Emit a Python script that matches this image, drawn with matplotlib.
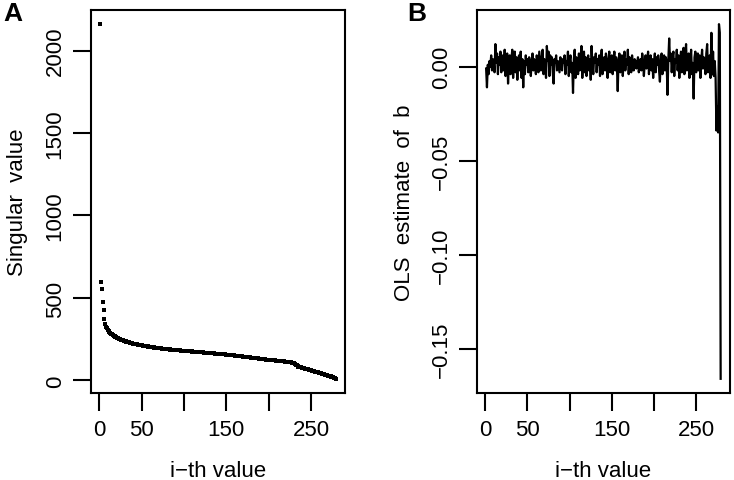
import numpy as np
import matplotlib
matplotlib.use("Agg")
from matplotlib import pyplot as plt

plt.rcParams['font.family'] = ['Liberation Sans', 'DejaVu Sans']

# panel A: singular values (in decreasing order)
singular = [
    2160, 597, 553, 478, 427, 373, 342, 326, 315, 306,
    299, 293, 288, 283, 279, 275, 271, 268, 265, 262,
    259, 256, 254, 251, 249, 247, 245, 243, 241, 239,
    237, 236, 234, 233, 231, 230, 228, 227, 226, 224,
    223, 222, 221, 220, 218, 217, 216, 215, 214, 213,
    212, 211, 210, 209, 208, 207, 206, 205, 204, 204,
    203, 202, 201, 200, 199, 199, 198, 197, 196, 196,
    195, 194, 194, 193, 192, 192, 191, 190, 190, 189,
    189, 188, 188, 187, 187, 186, 186, 185, 185, 184,
    184, 183, 183, 182, 182, 181, 181, 180, 180, 179,
    179, 179, 178, 178, 177, 177, 176, 176, 176, 175,
    175, 174, 174, 173, 173, 173, 172, 172, 171, 171,
    170, 170, 170, 169, 169, 168, 168, 167, 167, 167,
    166, 166, 165, 165, 164, 164, 163, 163, 162, 162,
    161, 161, 160, 160, 159, 159, 158, 158, 157, 157,
    156, 156, 155, 155, 154, 153, 153, 152, 152, 151,
    151, 150, 149, 149, 148, 148, 147, 146, 146, 145,
    144, 144, 143, 143, 142, 141, 141, 140, 139, 139,
    138, 137, 137, 136, 135, 135, 134, 133, 133, 132,
    131, 131, 130, 129, 129, 128, 127, 127, 126, 126,
    125, 124, 124, 123, 123, 122, 121, 121, 120, 120,
    119, 118, 118, 117, 117, 116, 115, 115, 114, 113,
    113, 112, 111, 111, 110, 109, 108, 107, 106, 104,
    100, 96, 91, 87, 84, 82, 80, 79, 77, 76,
    74, 73, 71, 70, 68, 67, 65, 64, 62, 61,
    59, 58, 56, 55, 53, 52, 50, 49, 47, 46,
    44, 43, 41, 39, 38, 36, 35, 33, 31, 30,
    28, 26, 24, 22, 20, 18, 16, 13, 10,
]

# panel B: OLS estimate of b
ols_b = [
    -0.001, -0.011, 0.001, -0.004, 0.003, 0.000, 0.006, -0.002, 0.004, 0.002,
    -0.003, 0.012, 0.002, 0.007, -0.004, 0.005, 0.001, 0.008, -0.003, 0.004,
    0.006, -0.002, 0.009, -0.005, 0.003, 0.007, -0.009, 0.002, 0.006, -0.004,
    0.004, 0.009, -0.006, 0.002, 0.008, -0.003, 0.005, -0.007, 0.003, 0.006,
    -0.002, 0.008, -0.006, 0.004, -0.011, 0.003, -0.004, 0.006, 0.001, 0.004,
    -0.003, 0.005, 0.002, -0.005, 0.003, 0.007, -0.002, 0.004, 0.001, -0.004,
    0.006, 0.002, -0.003, 0.008, 0.003, -0.002, 0.005, 0.009, -0.004, 0.004,
    0.002, -0.006, 0.011, 0.003, 0.008, -0.005, 0.006, 0.001, 0.005, -0.003,
    -0.009, 0.004, 0.002, 0.006, -0.002, 0.003, 0.000, -0.003, 0.005, 0.001,
    -0.002, 0.004, 0.002, 0.006, -0.004, 0.003, 0.001, 0.008, -0.005, 0.003,
    0.006, -0.003, 0.002, -0.014, 0.004, 0.009, -0.006, 0.005, 0.002, -0.004,
    0.007, -0.002, 0.004, 0.011, -0.006, 0.003, 0.008, -0.003, 0.005, -0.005,
    0.002, 0.006, -0.002, 0.004, -0.007, 0.011, 0.001, -0.004, 0.005, 0.002,
    0.007, -0.003, 0.004, 0.001, 0.006, -0.005, 0.003, 0.009, -0.004, 0.002,
    0.005, -0.002, 0.007, 0.001, -0.006, 0.004, 0.008, -0.003, 0.002, 0.006,
    -0.004, 0.003, 0.008, -0.002, 0.005, 0.001, -0.013, 0.004, 0.007, -0.003,
    0.002, 0.006, -0.005, 0.003, 0.008, -0.002, 0.004, 0.001, 0.009, -0.004,
    0.005, 0.002, -0.003, 0.006, 0.000, -0.002, 0.004, 0.003, -0.001, 0.002,
    0.005, -0.003, 0.001, 0.004, -0.002, 0.007, 0.003, -0.005, 0.002, 0.006,
    -0.001, 0.004, 0.008, -0.004, 0.003, 0.006, -0.002, 0.004, -0.006, 0.002,
    0.007, -0.003, 0.005, 0.001, 0.006, -0.002, -0.008, 0.004, 0.007, -0.004,
    0.003, 0.006, -0.002, 0.005, 0.002, -0.015, 0.004, 0.015, 0.003, 0.007,
    -0.003, 0.005, 0.008, -0.005, 0.004, 0.002, 0.009, -0.002, 0.006, -0.006,
    0.003, 0.008, -0.003, 0.005, 0.010, -0.004, 0.006, 0.012, -0.002, 0.004,
    0.007, -0.006, 0.003, 0.009, -0.004, 0.002, -0.017, 0.005, 0.008, -0.003,
    0.004, 0.007, -0.002, 0.006, -0.006, 0.003, 0.009, -0.001, 0.005, 0.002,
    -0.004, 0.007, 0.012, -0.003, 0.004, 0.006, -0.006, 0.018, -0.004, 0.008,
    -0.005, 0.003, -0.006, -0.034, -0.021, -0.035, 0.0226, 0.018, -0.166,
]

xticks = [0, 50, 100, 150, 200, 250]
xlabels = ['0', '50', '', '150', '', '250']
ticksA = [0, 500, 1000, 1500, 2000]
ticksB = [0.00, -0.05, -0.10, -0.15]
labelsB = ['0.00', '\u22120.05', '\u22120.10', '\u22120.15']

fs = 16


def rlim(v):
    lo, hi = min(v), max(v)
    d = 0.04 * (hi - lo)
    return lo - d, hi + d


def style(ax):
    for s in ax.spines.values():
        s.set_linewidth(1.5)
    ax.tick_params(length=13, width=1.5, labelsize=fs)
    ax.tick_params(axis='x', pad=6)
    ax.tick_params(axis='y', pad=5)


fig = plt.figure(figsize=(7.34, 4.81), dpi=100)
axA = fig.add_axes([0.1236, 0.1809, 0.3465, 0.7963])
axB = fig.add_axes([0.6495, 0.1809, 0.3451, 0.7963])

idxA = np.arange(1, len(singular) + 1)
axA.plot(idxA, singular, 's', color='black', markersize=2.6, markeredgewidth=0)
axA.set_xlim(rlim(idxA))
axA.set_ylim(rlim(singular))
axA.set_xticks(xticks)
axA.set_xticklabels(xlabels)
axA.set_yticks(ticksA)
axA.set_yticklabels([str(t) for t in ticksA], rotation=90, va='center')
axA.set_xlabel('i\u2212th value', fontsize=fs, labelpad=14)
axA.set_ylabel('Singular  value', fontsize=fs, labelpad=12)
style(axA)

idxB = np.arange(1, len(ols_b) + 1)
axB.plot(idxB, ols_b, '-', color='black', linewidth=1.6)
axB.set_xlim(rlim(idxB))
axB.set_ylim(rlim(ols_b))
axB.set_xticks(xticks)
axB.set_xticklabels(xlabels)
axB.set_yticks(ticksB)
axB.set_yticklabels(labelsB, rotation=90, va='center')
axB.set_xlabel('i\u2212th value', fontsize=fs, labelpad=14)
axB.set_ylabel('OLS  estimate  of  b', fontsize=fs, labelpad=11)
style(axB)

fig.text(0.004, 0.995, 'A', fontsize=19, fontweight='bold', va='top', ha='left')
fig.text(0.555, 0.995, 'B', fontsize=19, fontweight='bold', va='top', ha='left')

plt.savefig('out.png', dpi=100)
